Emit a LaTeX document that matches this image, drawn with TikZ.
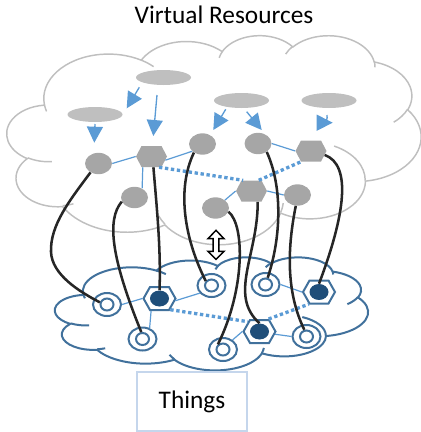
\documentclass[tikz,border=0pt]{standalone}
\usepackage{fontspec}
\setmainfont{Carlito}
\usetikzlibrary{arrows.meta,shapes.geometric,shapes.symbols,calc}

\definecolor{cloudgray}{RGB}{191,191,191}
\definecolor{resgray}{RGB}{191,191,191}
\definecolor{vgray}{RGB}{166,166,166}
\definecolor{linkblue}{RGB}{91,155,213}
\definecolor{thingblue}{RGB}{65,113,156}
\definecolor{dotblue}{RGB}{31,78,121}
\definecolor{wirecol}{RGB}{38,38,38}
\definecolor{boxblue}{RGB}{197,214,236}

% visual angle -> parametric angle of an ellipse
\pgfmathdeclarefunction{parang}{3}{%
  \begingroup
  \pgfmathparse{#3+Mod(atan2(#1*sin(#3),#2*cos(#3))-#3+180,360)-180}%
  \pgfmathsmuggle\pgfmathresult
  \endgroup}
\newcommand\carc[4]{arc[start angle={parang(#1,#2,#3)}, end angle={parang(#1,#2,#3+#4)}, x radius=#1, y radius=#2]}

% cloud outline, 432 x 432 box
\newcommand\cloudouter{%
 (39.00,143.70)
 \carc{67.53}{91.90}{-190.4875}{123.7805}
 \carc{53.33}{72.67}{-144.1024}{89.9452}
 \carc{43.65}{59.45}{-145.8079}{99.7230}
 \carc{48.57}{65.95}{-130.9861}{117.2417}
 \carc{53.33}{72.73}{-78.7089}{109.0269}
 \carc{67.75}{92.20}{-46.2673}{130.2690}
 \carc{57.85}{78.67}{0.6250}{114.0333}
 \carc{67.52}{92.15}{22.4516}{115.1726}
 \carc{77.20}{105.43}{66.2426}{75.7110}
 \carc{43.60}{59.18}{-274.9421}{146.7356}
 \carc{43.45}{59.45}{-246.8285}{152.5189}
 -- cycle}
\newcommand\cloudinner{%
 (46.93,261.77) \carc{43.45}{59.45}{86.7420}{26.4295}
 (69.28,348.99) \carc{43.60}{59.18}{73.6105}{11.4475}
 (164.78,390.90) \carc{67.52}{92.15}{137.6242}{14.0811}
 (288.27,347.51) \carc{67.52}{92.15}{6.4533}{15.9984}
 (341.29,229.54) \carc{57.85}{78.67}{-70.2924}{70.9174}
 (417.98,153.54) \carc{53.33}{72.73}{30.3180}{27.7515}
 (383.24,54.26) \carc{48.57}{65.95}{-13.7443}{14.8636}
 (290.78,39.52) \carc{48.57}{65.95}{-149.1815}{18.1876}
 (221.41,47.20) \carc{43.65}{59.45}{-163.4943}{17.6981}
 (140.00,51.92) \carc{67.53}{91.90}{-66.7070}{12.3194}
 (41.27,157.89) \carc{67.53}{91.90}{157.6544}{11.8582}}

\tikzset{
  vres/.style={ellipse, fill=resgray, inner sep=0pt, minimum width=41.25pt, minimum height=11.25pt},
  vnode/.style={ellipse, fill=vgray, inner sep=0pt, minimum width=20.25pt, minimum height=16pt},
  vhex/.style={signal, signal to=east and west, signal pointer angle=125, fill=vgray, inner sep=0pt, minimum width=23.25pt, minimum height=15.75pt},
  tring/.style={ellipse, draw=thingblue, line width=1.5pt, inner sep=0pt, minimum width=21pt, minimum height=17.25pt},
  tcore/.style={ellipse, draw=thingblue, line width=1.5pt, inner sep=0pt, minimum width=9.75pt, minimum height=9pt},
  thex/.style={signal, signal to=east and west, signal pointer angle=121, draw=thingblue, fill=white, line width=1.5pt, inner sep=0pt, minimum width=24pt, minimum height=17.25pt},
  tdot/.style={ellipse, fill=dotblue, inner sep=0pt, minimum width=14.25pt, minimum height=12pt},
  link/.style={draw=linkblue, line width=0.9pt},
  dotlink/.style={draw=linkblue, line width=2.5pt, dash pattern=on 2.5pt off 2pt},
  arr/.style={draw=linkblue, line width=1pt, -{Triangle[length=12pt,width=12pt]}},
  wire/.style={draw=wirecol, line width=1.9pt},
  updown/.style={draw=black, fill=white, line width=1.1pt, line join=miter}
}

\begin{document}
\begin{tikzpicture}[x=0.75pt,y=0.75pt,yscale=-1,xscale=1]
\useasboundingbox (0,0) rectangle (421,432);

%Shape: Cloud (virtual)
\begin{scope}[shift={(7,35)}, x=1pt, y=1pt, xscale=0.71875, yscale=0.36285]
\draw[cloudgray, line width=1.1pt] \cloudouter;
\draw[cloudgray, line width=1.1pt] \cloudinner;
\end{scope}
%Shape: Cloud (things)
\begin{scope}[shift={(55,257)}, x=1pt, y=1pt, xscale=0.54340, yscale=0.19618]
\draw[thingblue, line width=1.5pt] \cloudouter;
\draw[thingblue, line width=1.5pt] \cloudinner;
\end{scope}

% Text Node
\node[anchor=base, font=\fontsize{19}{22}\selectfont] (title) at (224,23) {Virtual Resources};
\node[draw=boxblue, line width=0.9pt, minimum width=82.5pt, minimum height=44.25pt, font=\fontsize{19}{22}\selectfont] (things) at (192,401.5) {Things};

% virtual resources
\node[vres] (e1) at (163.5,77.5) {};
\node[vres] (e2) at (95,114.5) {};
\node[vres] (e3) at (241.5,100.5) {};
\node[vres] (e4) at (329,100.5) {};
\node[vnode] (c1) at (98.5,163.5) {};
\node[vnode] (c2) at (134.5,197.5) {};
\node[vnode] (c3) at (202.5,144) {};
\node[vnode] (c4) at (258,143.5) {};
\node[vnode] (c5) at (215.5,208) {};
\node[vnode] (c6) at (297.5,195) {};
\node[vhex] (h1) at (151.5,156.5) {};
\node[vhex] (h2) at (311,151) {};
\node[vhex] (h3) at (251.5,191) {};

% things
\node[tring] (t1) at (107,304.5) {};
\node[tring] (t2) at (142.5,339) {};
\node[tring] (t3) at (211.5,285.5) {};
\node[tring] (t4) at (265.5,284.5) {};
\node[tring] (t5) at (223,349.5) {};
\node[tring] (t6) at (306.5,336.5) {};
\node[tcore] (t1c) at (t1) {};
\node[tcore] (t2c) at (t2) {};
\node[tcore] (t3c) at (t3) {};
\node[tcore] (t4c) at (t4) {};
\node[tcore] (t5c) at (t5) {};
\node[tcore] (t6c) at (t6) {};
\node[thex] (hb1) at (159.5,298.5) {};
\node[thex] (hb2) at (319,292) {};
\node[thex] (hb3) at (259.5,331.5) {};
\node[tdot] (hb1c) at (hb1) {};
\node[tdot] (hb2c) at (hb2) {};
\node[tdot] (hb3c) at (hb3) {};

%Straight Lines
\draw[link] (c1.east) -- (h1.west);
\draw[link] (h1.-15) -- (c3.215);
\draw[link] (h1.231) -- (c2.50);
\draw[link] (c4.east) -- (h2.west);
\draw[link] (h3.west) -- (c5.40);
\draw[link] (h3.east) -- (c6.west);
\draw[dotlink] (h1.-55) -- (h3.128);
\draw[dotlink] (h3.56) -- (h2.227);
\draw[link] (t1.east) -- (hb1.west);
\draw[link] (hb1.-8) -- (t3.213);
\draw[link] (hb1.236) -- (t2.57);
\draw[link] (t4.east) -- (hb2.west);
\draw[link] (hb3.west) -- (t5.45);
\draw[link] (hb3.-10) -- (t6.west);
\draw[dotlink] (hb1.-46) -- (hb3.140);
\draw[dotlink] (hb3.54) -- (hb2.230);

%Arrows
\draw[arr] ($(e1)+(-24.2,9.8)$) -- ($(e2)+(31.7,-6.2)$);
\draw[arr] ($(e1)+(-6.5,17.5)$) -- ($(h1)+(1.8,-20.5)$);
\draw[arr] ($(e2)+(0,9.5)$) -- ($(c1)+(-4.2,-20.8)$);
\draw[arr] ($(e3)+(-15.8,8.8)$) -- ($(c3)+(10.8,-14)$);
\draw[arr] ($(e3)+(5.2,11.2)$) -- ($(c4)+(3.7,-13.5)$);
\draw[arr] ($(e4)+(-2,14.5)$) to[out=90,in=180] ($(e4)+(3.7,22.2)$);

%Curves
\draw[wire] (c1.228) .. controls (70,200) and (50,225) .. (51,252) .. controls (52,275) and (80,292) .. (t1c.163);
\draw[wire] (c2.198) .. controls (106,220) and (112,260) .. (t2c.100);
\draw[wire] (h1.-80) .. controls (157,210) and (161,250) .. (hb1c.north);
\draw[wire] (c3.225) .. controls (176,190) and (185,240) .. (t3c.142);
\draw[wire] (c5.-16) .. controls (245,225) and (245,290) .. (t5c.135);
\draw[wire] (h3.-60) .. controls (258,255) and (228,295) .. (hb3c.north);
\draw[wire] (c4.-44) .. controls (282,185) and (282,235) .. (t4c.72);
\draw[wire] (c6.-99) .. controls (288,245) and (285,290) .. (t6c.108);
\draw[wire] (h2.-16) .. controls (352,165) and (345,215) .. (hb2c.north);

%Shape: Up Down Arrow
\draw[updown] (216,230.3) -- (224,238.7) -- (218.9,238.7) -- (218.9,251.3) -- (224,251.3) -- (216,259.3) -- (208,251.3) -- (213.1,251.3) -- (213.1,238.7) -- (208,238.7) -- cycle;

\end{tikzpicture}
\end{document}
